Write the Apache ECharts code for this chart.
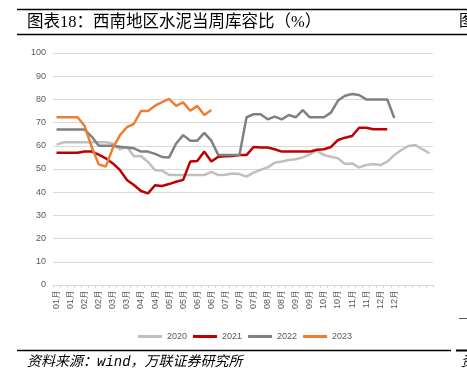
<!DOCTYPE html>
<html><head><meta charset="utf-8">
<script src="https://cdn.jsdelivr.net/npm/echarts@6/dist/echarts.min.js"></script>
<style>html,body{margin:0;padding:0;background:#fff}#c{width:467px;height:386px}</style>
</head><body><div id="c"></div>
<script>
// weekly categories (54 weeks)
const categories = [];
for (let i = 1; i <= 54; i++) categories.push('W' + i);
// tick labels shown on every second week
const tickLabels = ['01月','01月','02月','02月','03月','03月','04月','04月','05月','05月','06月','06月',
  '07月','07月','07月','08月','08月','09月','09月','10月','10月','11月','11月','12月','12月'];
const yTicks = [0,10,20,30,40,50,60,70,80,90,100];
const seriesNames = ['2020','2021','2022','2023'];

const s2020 = [60.5,61.5,61.5,61.5,61.5,61.5,61.5,61.5,61,58.5,59.6,55.5,55.6,53,49.5,49.3,47.4,47.4,47.4,47.4,
  47.4,47.4,48.8,47.4,47.5,48.1,47.8,46.7,48.4,49.6,50.7,52.7,53.2,53.9,54.2,55,56.3,57.9,56,55.3,
  54.6,52.2,52.4,50.7,51.7,52.2,51.7,53.2,56,58.2,59.9,60.3,58.5,56.8];
const s2021 = [57,57,57,57,57.5,57.5,56.2,54.6,52.4,49.6,45.3,43.1,40.5,39.5,43,42.7,43.5,44.5,45.3,53.2,
  53.4,57.5,53.2,55.3,55.5,55.6,56,56,59.5,59.3,59.3,58.5,57.5,57.5,57.5,57.5,57.5,58.3,58.5,59.5,
  62.5,63.5,64.2,67.8,67.8,67.1,67.1,67.1];
const s2022 = [67,67,67,67,67,64,60,60,60,59.6,59.3,58.9,57.5,57.5,56.5,55.2,55,61,64.6,62.2,
  62.2,65.6,62.2,56,56,56,56,72.3,73.6,73.6,71.4,72.6,71.4,73.3,72.3,75.4,72.3,72.3,72.3,74.3,
  79.5,81.6,82.3,81.9,80,80,80,80,72];
const s2023 = [72.3,72.3,72.3,72.3,68.5,59.5,52,51,59,64.5,68,69.5,75,75,77.3,78.8,80.2,77.2,78.7,75.1,
  77.2,73.3,75.4];

const colors = ['#BFBFBF','#C00000','#808080','#ED7D31'];
const seriesData = [s2020, s2021, s2022, s2023];

const chart = echarts.init(document.getElementById('c'), null, {renderer:'canvas'});
const serif = '"Liberation Serif","Noto Sans CJK SC",serif';
const mono = '"Liberation Mono","Noto Sans CJK SC",monospace';
chart.setOption({
  animation: false,
  backgroundColor: '#fff',
  grid: {left: 53, right: 34, top: 53, bottom: 101, containLabel: false},
  legend: {
    data: seriesNames, left: 133, top: 327, icon: 'rect', itemWidth: 24, itemHeight: 3, itemGap: 6,
    textStyle: {fontSize: 9, color: '#595959', fontFamily: 'Liberation Sans'}
  },
  xAxis: {
    type: 'category', data: categories, boundaryGap: true,
    axisLine: {lineStyle: {color: '#D9D9D9'}},
    axisTick: {show: true, interval: 0, length: 3, lineStyle: {color: '#D9D9D9'}},
    axisLabel: {
      interval: 0, rotate: 90, fontSize: 9, color: '#595959', fontFamily: 'Liberation Sans', margin: 5,
      formatter: (v, i) => (i % 2 === 0 && tickLabels[i / 2]) ? tickLabels[i / 2] : ''
    }
  },
  yAxis: {
    type: 'value', min: yTicks[0], max: yTicks[yTicks.length - 1], interval: 10,
    axisLine: {show: false}, axisTick: {show: false},
    axisLabel: {fontSize: 9, color: '#595959', fontFamily: 'Liberation Sans', margin: 7},
    splitLine: {lineStyle: {color: '#D9D9D9', width: 1}}
  },
  series: seriesNames.map((n, k) => ({
    name: n, type: 'line', data: seriesData[k], symbol: 'none', showSymbol: false,
    color: colors[k], lineStyle: {width: 2.5, color: colors[k]}, z: 2 + k
  })),
  graphic: [
    {type: 'line', shape: {x1: 17, y1: 9.5, x2: 467, y2: 9.5}, style: {stroke: '#000', lineWidth: 1.5}},
    {type: 'line', shape: {x1: 17, y1: 34.5, x2: 467, y2: 34.5}, style: {stroke: '#000', lineWidth: 1.5}},
    {type: 'text', left: 27, top: 14, style: {text: '图表18：西南地区水泥当周库容比（%）', fontSize: 16.5, fill: '#000', fontFamily: serif}},
    {type: 'text', left: 459, top: 14, style: {text: '图', fontSize: 16, fill: '#000', fontFamily: serif}},
    {type: 'line', shape: {x1: 17, y1: 350.5, x2: 451, y2: 350.5}, style: {stroke: '#000', lineWidth: 1.5}},
    {type: 'line', shape: {x1: 456, y1: 350.5, x2: 467, y2: 350.5}, style: {stroke: '#000', lineWidth: 2}},
    {type: 'line', shape: {x1: 459, y1: 318.5, x2: 467, y2: 318.5}, style: {stroke: '#555', lineWidth: 1}},
    {type: 'text', left: 27, top: 355, style: {text: '资料来源：wind，万联证券研究所', fontSize: 14, fontStyle: 'italic', fill: '#000', fontFamily: mono}},
    {type: 'text', left: 461, top: 355, style: {text: '资', fontSize: 14, fontStyle: 'italic', fill: '#000', fontFamily: serif}}
  ]
});
</script>
</body></html>
